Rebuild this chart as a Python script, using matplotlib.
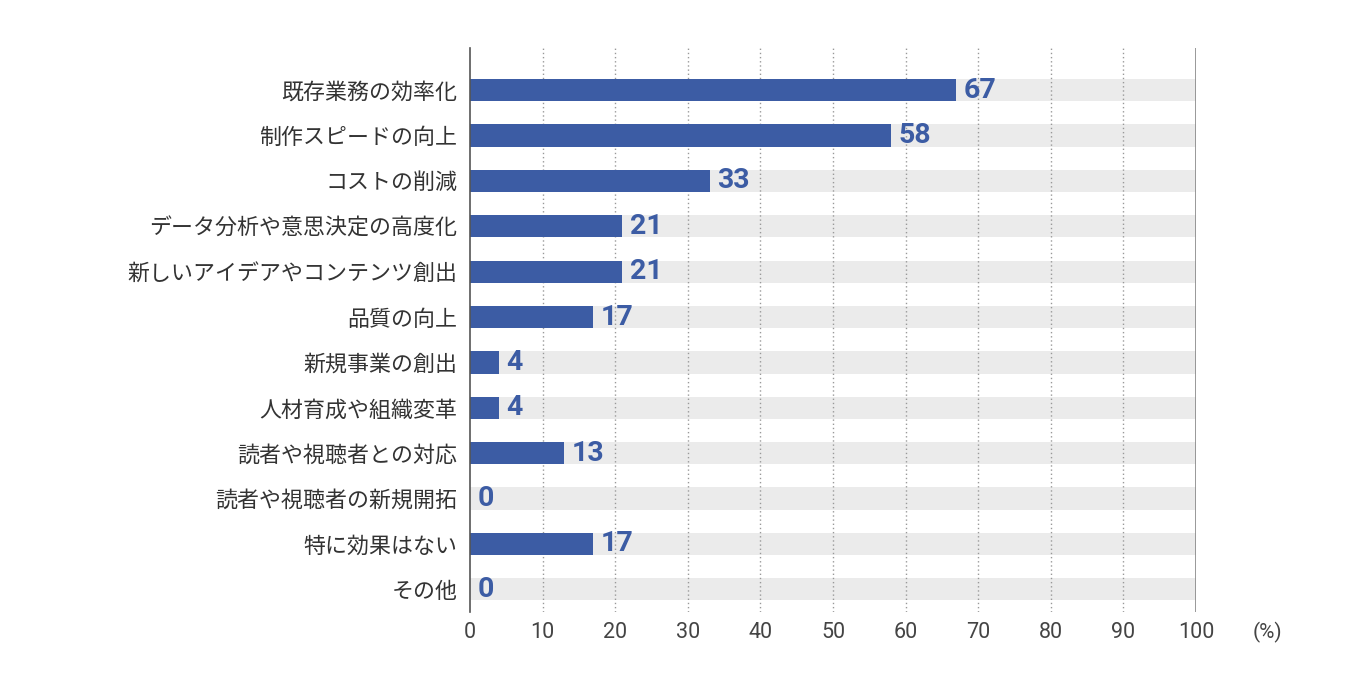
import matplotlib
matplotlib.use("Agg")
import matplotlib.pyplot as plt

categories = ["既存業務の効率化", "制作スピードの向上", "コストの削減",
              "データ分析や意思決定の高度化", "新しいアイデアやコンテンツ創出",
              "品質の向上", "新規事業の創出", "人材育成や組織変革",
              "読者や視聴者との対応", "読者や視聴者の新規開拓",
              "特に効果はない", "その他"]
values = [67, 58, 33, 21, 21, 17, 4, 4, 13, 0, 17, 0]
xticks = [0, 10, 20, 30, 40, 50, 60, 70, 80, 90, 100]
xmax = 100

plt.rcParams['font.family'] = ['Noto Sans CJK JP', 'DejaVu Sans']

fig = plt.figure(figsize=(13.46, 6.85), dpi=100)
ax = fig.add_axes([470/1346, 1-612/685, 726/1346, 564/685])

n = len(categories)
ys = list(range(n))
bh = 0.49
ax.barh(ys, [xmax]*n, height=bh, color="#ebebeb", zorder=1)
ax.barh(ys, values, height=bh, color="#3c5ca4", zorder=3)

for y, v in zip(ys, values):
    ax.annotate(str(v), (v, y), xytext=(5.5, 0), textcoords="offset points",
                ha="left", va="center", color="#3c5ca4", fontsize=20.5,
                fontweight="bold", family="Roboto", zorder=4)

ax.set_ylim(n - 0.5, -0.93)
ax.set_xlim(0, xmax)
ax.set_yticks(ys)
ax.set_yticklabels(categories, fontsize=15.8, color="#333333")
ax.set_xticks(xticks)
ax.set_xticklabels([str(t) for t in xticks], fontsize=15.5, color="#444444", family="Roboto")
ax.tick_params(axis="y", length=0, pad=9)
ax.tick_params(axis="x", length=0, pad=7)

for t in xticks[1:-1]:
    ax.axvline(t, color="#999999", linestyle=(0, (1, 2)), linewidth=1, zorder=2)
ax.axvline(xmax, color="#888888", linewidth=1.2, zorder=2)

for s in ["top", "right", "bottom"]:
    ax.spines[s].set_visible(False)
ax.spines["left"].set_color("#555555")
ax.spines["left"].set_linewidth(1.2)
ax.spines["left"].set_zorder(5)

ax.annotate("(%)", (1.099, 0), xycoords="axes fraction", xytext=(0, -7),
            textcoords="offset points", ha="center", va="top",
            fontsize=15, color="#444444", family="Roboto")

fig.savefig("out.png", dpi=100)
